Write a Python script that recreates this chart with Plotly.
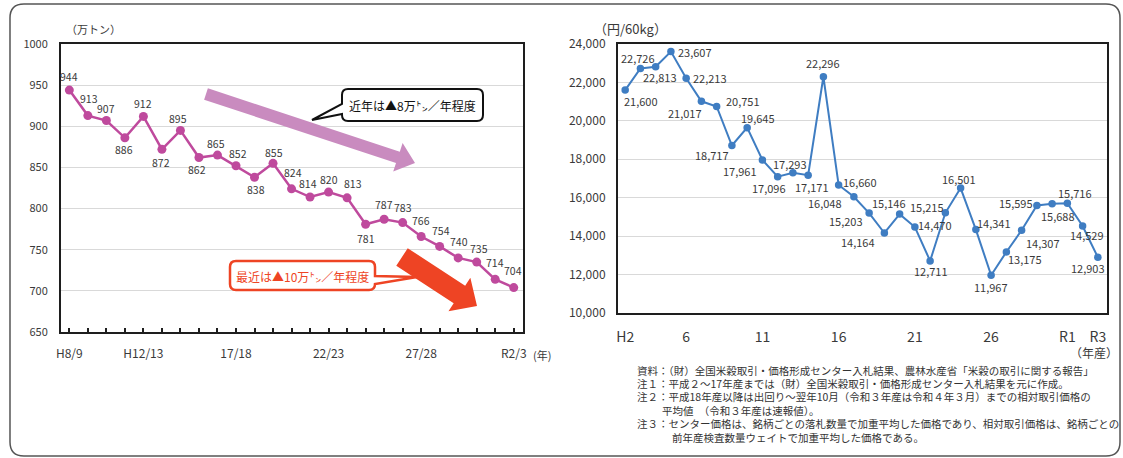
import math
import plotly.graph_objects as go

# ---- 左: 主食用米等の需要量（万トン） ----
demand_years = ["H8/9", "H9/10", "H10/11", "H11/12", "H12/13", "H13/14", "H14/15",
                "H15/16", "H16/17", "17/18", "18/19", "19/20", "20/21", "21/22",
                "22/23", "23/24", "24/25", "25/26", "26/27", "27/28", "28/29",
                "29/30", "30/R1", "R1/2", "R2/3"]
demand_values = [944, 913, 907, 886, 912, 872, 895, 862, 865, 852, 838, 855, 824,
                 814, 820, 813, 781, 787, 783, 766, 754, 740, 735, 714, 704]
demand_tick_labels = ["H8/9", "H12/13", "17/18", "22/23", "27/28", "R2/3"]

# ---- 右: 米の相対取引価格（円/60kg） ----
price_years = ["H2", "H3", "H4", "H5", "H6", "H7", "H8", "H9", "H10", "H11", "H12",
               "H13", "H14", "H15", "H16", "H17", "H18", "H19", "H20", "H21", "H22",
               "H23", "H24", "H25", "H26", "H27", "H28", "H29", "H30", "R1", "R2", "R3"]
price_values = [21600, 22726, 22813, 23607, 22213, 21017, 20751, 18717, 19645, 17961,
                17096, 17293, 17171, 22296, 16660, 16048, 15203, 14164, 15146, 14470,
                12711, 15215, 16501, 14341, 11967, 13175, 14307, 15595, 15688, 15716,
                14529, 12903]
price_tick_years = ["H2", "H6", "H11", "H16", "H21", "H26", "R1", "R3"]
price_tick_labels = ["H2", "6", "11", "16", "21", "26", "R1", "R3"]

notes = [
    ("資料：（財）全国米穀取引・価格形成センター入札結果、農林水産省「米穀の取引に関する報告」", 0),
    ("注１：平成２～17年産までは（財）全国米穀取引・価格形成センター入札結果を元に作成。", 0),
    ("注２：平成18年産以降は出回り～翌年10月（令和３年産は令和４年３月）までの相対取引価格の", 0),
    ("平均値　（令和３年産は速報値）。", 25),
    ("注３：センター価格は、銘柄ごとの落札数量で加重平均した価格であり、相対取引価格は、銘柄ごとの", 0),
    ("前年産検査数量ウェイトで加重平均した価格である。", 35),
]

# データラベルの位置（点からのずれ, px）
demand_label_offsets = [(0, -14), (1, -17), (0, -12), (-1, 12), (0, -13), (-1, 13),
                        (-2, -12), (-2, 12), (-1, -12), (2, -12), (1, 12), (1, -11),
                        (1, -16), (-2, -14), (0, -13), (6, -14), (0, 14), (0, -15),
                        (0, -15), (0, -16), (1, -16), (1, -16), (2, -14), (0, -17),
                        (-1, -17)]
price_label_offsets = [(16, 11), (-2, -10), (4, 10), (24, 0), (24, 0), (-16, 12),
                       (26, -5), (-20, 9), (11, -10), (-22, 11), (-9, 11), (-3, -9),
                       (4, 12), (0, -14), (21, -3), (-29, 6), (-23, 8), (-26, 9),
                       (-11, -11), (20, -2), (1, 10), (-18, -6), (-2, -9), (18, -7),
                       (0, 12), (19, 7), (21, 13), (-21, -3), (6, 12), (8, -10),
                       (4, 9), (-10, 11)]

W, H = 1123, 458
FONT = "Noto Sans CJK JP, Noto Sans, sans-serif"
TXT = "#3a3a3a"
PURPLE = "#BF4A9D"
BLUE = "#3F7DC2"
RED = "#EE4424"


def px(x):
    return x / W


def py(y):
    return 1 - y / H


def arrow_path(x0, y0, x1, y1, shaft, head, headlen):
    dx, dy = x1 - x0, y1 - y0
    L = math.hypot(dx, dy)
    ux, uy = dx / L, dy / L
    nx, ny = -uy, ux
    bx, by = x1 - ux * headlen, y1 - uy * headlen
    s, h = shaft / 2, head / 2
    pts = [(x0 + nx * s, y0 + ny * s), (bx + nx * s, by + ny * s),
           (bx + nx * h, by + ny * h), (x1, y1),
           (bx - nx * h, by - ny * h), (bx - nx * s, by - ny * s),
           (x0 - nx * s, y0 - ny * s)]
    return "M " + " L ".join(f"{px(a):.5f},{py(b):.5f}" for a, b in pts) + " Z"


def P(x, y):
    return f"{px(x):.5f},{py(y):.5f}"


def callout_path(x0, y0, x1, y1, r, side, ya, yb, tx, ty):
    d = [f"M {P(x0 + r, y0)}", f"L {P(x1 - r, y0)}", f"Q {P(x1, y0)} {P(x1, y0 + r)}"]
    if side == "right":
        d += [f"L {P(x1, ya)}", f"L {P(tx, ty)}", f"L {P(x1, yb)}"]
    d += [f"L {P(x1, y1 - r)}", f"Q {P(x1, y1)} {P(x1 - r, y1)}",
          f"L {P(x0 + r, y1)}", f"Q {P(x0, y1)} {P(x0, y1 - r)}"]
    if side == "left":
        d += [f"L {P(x0, yb)}", f"L {P(tx, ty)}", f"L {P(x0, ya)}"]
    d += [f"L {P(x0, y0 + r)}", f"Q {P(x0, y0)} {P(x0 + r, y0)}", "Z"]
    return " ".join(d)


def label(x, y, text, size, color=TXT, xanchor="center"):
    return dict(x=px(x), y=py(y), xref="paper", yref="paper", text=text, showarrow=False,
                xanchor=xanchor, yanchor="middle",
                font=dict(family=FONT, size=size, color=color))


dx_demand = list(range(len(demand_values)))
dx_price = list(range(len(price_values)))

fig = go.Figure()
fig.add_trace(go.Scatter(
    x=dx_demand, y=demand_values, mode="lines+markers",
    line=dict(color=PURPLE, width=2.5), marker=dict(color=PURPLE, size=9),
    xaxis="x", yaxis="y", showlegend=False, hoverinfo="skip"))
fig.add_trace(go.Scatter(
    x=dx_price, y=price_values, mode="lines+markers",
    line=dict(color=BLUE, width=2), marker=dict(color=BLUE, size=7.5),
    xaxis="x2", yaxis="y2", showlegend=False, hoverinfo="skip"))

annotations = []
for i, v in enumerate(demand_values):
    ox, oy = demand_label_offsets[i]
    annotations.append(dict(x=i, y=v, xref="x", yref="y", text=str(v), showarrow=False,
                            xanchor="center", yanchor="middle",
                            xshift=ox, yshift=-oy, font=dict(family=FONT, size=10.5, color=TXT)))
for i, v in enumerate(price_values):
    ox, oy = price_label_offsets[i]
    annotations.append(dict(x=i, y=v, xref="x2", yref="y2", text=f"{v:,}", showarrow=False,
                            xanchor="center", yanchor="middle",
                            xshift=ox, yshift=-oy, font=dict(family=FONT, size=11, color=TXT)))

# 軸の単位・吹き出しの文字
annotations += [
    label(64, 29, "（万トン）", 11, xanchor="left"),
    label(592, 29, "（円/60kg）", 13, xanchor="left"),
    label(531, 355, "(年)", 11, xanchor="left"),
    label(1094, 352, "（年産）", 12),
    label(412, 105, "近年は▲8万㌧／年程度", 12, "#111111"),
    label(302, 276, "最近は▲10万㌧／年程度", 12, RED),
]
for k, (line, indent) in enumerate(notes):
    annotations.append(label(635 + indent, 370 + k * 13.4, line, 10.5, "#333333", xanchor="left"))

shapes = [
    # 外枠
    dict(type="path", xref="paper", yref="paper",
         path=callout_path(10, 4, 1120, 456, 14, None, 0, 0, 0, 0),
         line=dict(color="#555555", width=1.5), fillcolor="rgba(0,0,0,0)", layer="below"),
    # 傾向の矢印
    dict(type="path", xref="paper", yref="paper",
         path=arrow_path(206, 94, 415, 163, 12, 30, 18),
         line=dict(width=0), fillcolor="#C98BBF"),
    dict(type="path", xref="paper", yref="paper",
         path=arrow_path(402, 257, 477, 306, 21, 40, 21),
         line=dict(width=0), fillcolor=RED),
    # 吹き出し
    dict(type="path", xref="paper", yref="paper",
         path=callout_path(342, 89, 483, 121, 6, "left", 104, 114, 312, 120),
         line=dict(color="#111111", width=2), fillcolor="white"),
    dict(type="path", xref="paper", yref="paper",
         path=callout_path(230, 261, 375, 290, 6, "right", 276, 284, 417, 277),
         line=dict(color=RED, width=2.5), fillcolor="white"),
]

axis_common = dict(showline=True, mirror=True, linecolor="#1e1e1e", linewidth=2,
                   zeroline=False)

fig.update_layout(
    width=W, height=H, margin=dict(l=0, r=0, t=0, b=0, autoexpand=False),
    paper_bgcolor="white", plot_bgcolor="white",
    xaxis=dict(domain=[px(61), px(523)], range=[-0.45, 24.5], anchor="y",
               tickmode="array", tickvals=dx_demand,
               ticktext=[c if c in demand_tick_labels else "" for c in demand_years],
               ticks="inside", ticklen=4, tickwidth=1.5, tickcolor="#1e1e1e",
               showgrid=False, ticklabelstandoff=10,
               tickfont=dict(family=FONT, size=12, color=TXT), **axis_common),
    yaxis=dict(domain=[py(332), py(44)], range=[650, 1000], anchor="x",
               tickmode="array", tickvals=[650, 700, 750, 800, 850, 900, 950, 1000],
               showgrid=True, gridcolor="#d9d9d9", gridwidth=1, ticks="",
               ticklabelstandoff=9, tickfont=dict(family=FONT, size=11, color=TXT),
               **axis_common),
    xaxis2=dict(domain=[px(618), px(1107)], range=[-0.47, 31.6], anchor="y2",
                tickmode="array", tickvals=[price_years.index(t) for t in price_tick_years],
                ticktext=price_tick_labels, ticks="", showgrid=False, ticklabelstandoff=10,
                tickfont=dict(family=FONT, size=14, color=TXT), **axis_common),
    yaxis2=dict(domain=[py(313), py(44)], range=[10000, 24000], anchor="x2",
                tickmode="array", tickvals=list(range(10000, 24001, 2000)),
                tickformat=",d", showgrid=True, gridcolor="#d9d9d9", gridwidth=1, ticks="",
                ticklabelstandoff=8, tickfont=dict(family=FONT, size=12, color=TXT),
                **axis_common),
    annotations=annotations, shapes=shapes,
)

# ページの余白を消して図をウィンドウいっぱいに置く
fig.write_html("out.html", post_script="document.body.style.margin='0';")
